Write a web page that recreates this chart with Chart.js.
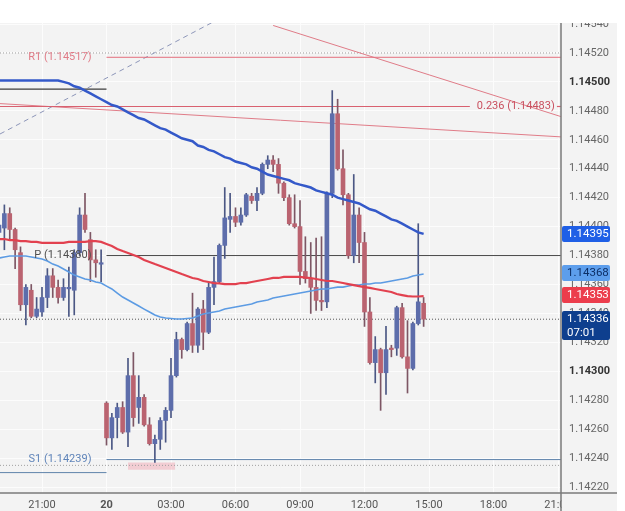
<!DOCTYPE html>
<html><head><meta charset="utf-8">
<script src="https://cdn.jsdelivr.net/npm/chart.js@4.4.1/dist/chart.umd.min.js"></script>
<style>html,body{margin:0;padding:0;background:#fff;}canvas{display:block}</style>
</head><body>
<canvas id="c" width="625" height="511"></canvas>
<script>
// ---- DATA ----
const times = ["19:00","19:15","19:30","19:45","20:00","20:15","20:30","20:45","21:00","21:15","21:30","21:45","22:00","22:15","22:30","22:45","23:00","23:15","23:30","23:45",
"00:00","00:15","00:30","00:45","01:00","01:15","01:30","01:45","02:00","02:15","02:30","02:45","03:00","03:15","03:30","03:45","04:00","04:15","04:30","04:45",
"05:00","05:15","05:30","05:45","06:00","06:15","06:30","06:45","07:00","07:15","07:30","07:45","08:00","08:15","08:30","08:45","09:00","09:15","09:30","09:45",
"10:00","10:15","10:30","10:45","11:00","11:15","11:30","11:45","12:00","12:15","12:30","12:45","13:00","13:15","13:30","13:45","14:00","14:15","14:30","14:45"];
const opens = [1.14396,1.14399,1.14409,1.14398,1.14382,1.14346,1.14356,1.14338,1.14341,1.14351,1.14366,1.14358,1.14351,1.14357,1.14356,1.14382,1.14408,1.14391,1.14377,1.14374,
1.14278,1.14254,1.14268,1.14275,1.14258,1.14297,1.14275,1.14282,1.14263,1.14250,1.14253,1.14266,1.14273,1.14297,1.14322,1.14315,1.14333,1.14318,1.14343,1.14327,
1.14358,1.14362,1.14387,1.14405,1.14407,1.14403,1.14408,1.14421,1.14418,1.14423,1.14443,1.14446,1.14443,1.14430,1.14420,1.14402,1.14400,1.14369,1.14364,1.14358,
1.14349,1.14348,1.14423,1.14478,1.14440,1.14422,1.14380,1.14408,1.14389,1.14341,1.14306,1.14315,1.14299,1.14316,1.14316,1.14344,1.14310,1.14302,1.14333,1.14347];
const highs = [1.14405,1.14415,1.14413,1.14399,1.14386,1.14360,1.14360,1.14351,1.14358,1.14371,1.14371,1.14363,1.14364,1.14372,1.14384,1.14413,1.14423,1.14396,1.14384,1.14384,
1.14279,1.14271,1.14278,1.14279,1.14309,1.14313,1.14297,1.14284,1.14268,1.14256,1.14268,1.14275,1.14309,1.14327,1.14323,1.14334,1.14354,1.14344,1.14349,1.14361,
1.14379,1.14388,1.14427,1.14423,1.14413,1.14413,1.14423,1.14423,1.14427,1.14444,1.14449,1.14449,1.14447,1.14431,1.14422,1.14422,1.14418,1.14393,1.14389,1.14392,
1.14393,1.14424,1.14494,1.14488,1.14453,1.14423,1.14436,1.14413,1.14396,1.14351,1.14324,1.14316,1.14331,1.14318,1.14345,1.14347,1.14335,1.14334,1.14402,1.14351];
const lows = [1.14391,1.14384,1.14391,1.14371,1.14342,1.14332,1.14337,1.14337,1.14338,1.14344,1.14351,1.14347,1.14349,1.14338,1.14339,1.14380,1.14396,1.14362,1.14365,1.14362,
1.14249,1.14246,1.14254,1.14257,1.14248,1.14262,1.14264,1.14262,1.14249,1.14237,1.14246,1.14251,1.14268,1.14296,1.14309,1.14314,1.14313,1.14313,1.14315,1.14326,
1.14346,1.14361,1.14378,1.14396,1.14400,1.14401,1.14407,1.14416,1.14411,1.14422,1.14440,1.14438,1.14423,1.14418,1.14401,1.14399,1.14360,1.14361,1.14340,1.14342,
1.14342,1.14344,1.14420,1.14439,1.14415,1.14378,1.14375,1.14375,1.14331,1.14305,1.14292,1.14273,1.14284,1.14310,1.14311,1.14309,1.14285,1.14301,1.14332,1.14331];
const closes = [1.14401,1.14409,1.14398,1.14384,1.14346,1.14358,1.14338,1.14343,1.14351,1.14366,1.14358,1.14351,1.14358,1.14358,1.14382,1.14408,1.14398,1.14377,1.14375,1.14375,
1.14254,1.14268,1.14275,1.14258,1.14297,1.14268,1.14282,1.14263,1.14250,1.14253,1.14266,1.14273,1.14297,1.14322,1.14315,1.14333,1.14318,1.14343,1.14327,1.14358,
1.14362,1.14387,1.14406,1.14407,1.14403,1.14408,1.14422,1.14418,1.14423,1.14443,1.14446,1.14443,1.14430,1.14420,1.14402,1.14400,1.14369,1.14364,1.14358,1.14349,
1.14348,1.14423,1.14478,1.14440,1.14422,1.14380,1.14408,1.14389,1.14341,1.14306,1.14315,1.14299,1.14315,1.14315,1.14344,1.14310,1.14302,1.14333,1.14348,1.14336];
// moving averages (dark blue, red, light blue)
const maSlow = [1.14501,1.14501,1.14501,1.14501,1.14501,1.14501,1.14501,1.14501,1.14501,1.14501,1.14501,1.14501,1.14500,1.14499,1.14497,1.14496,1.14494,1.14492,1.14490,1.14488,
1.14486,1.14484,1.14483,1.14481,1.14479,1.14477,1.14475,1.14474,1.14472,1.14470,1.14468,1.14467,1.14465,1.14463,1.14461,1.14460,1.14459,1.14456,1.14455,1.14453,
1.14452,1.14450,1.14448,1.14447,1.14445,1.14444,1.14443,1.14441,1.14440,1.14438,1.14436,1.14435,1.14434,1.14433,1.14432,1.14430,1.14429,1.14428,1.14427,1.14425,
1.14424,1.14423,1.14422,1.14420,1.14419,1.14418,1.14417,1.14416,1.14414,1.14412,1.14411,1.14409,1.14407,1.14405,1.14404,1.14402,1.14400,1.14398,1.14396,1.14395];
const maMid = [1.143914,1.143914,1.143907,1.143907,1.143900,1.143900,1.143894,1.143894,1.143887,1.143887,1.143887,1.143887,1.143887,1.143894,1.143894,1.143894,1.143894,1.143900,1.143900,1.143894,
1.143880,1.143866,1.143845,1.143831,1.143818,1.143804,1.143790,1.143769,1.143755,1.143741,1.143728,1.143714,1.143700,1.143686,1.143672,1.143659,1.143645,1.143638,1.143624,1.143617,
1.143610,1.143607,1.143603,1.143603,1.143603,1.143610,1.143610,1.143617,1.143624,1.143631,1.143638,1.143645,1.143645,1.143652,1.143652,1.143652,1.143652,1.143648,1.143645,1.143638,
1.143631,1.143624,1.143624,1.143617,1.143610,1.143603,1.143596,1.143589,1.143582,1.143576,1.143569,1.143562,1.143555,1.143548,1.143534,1.143527,1.143520,1.143517,1.143517,1.143520];
const maFast = [1.143783,1.143790,1.143797,1.143797,1.143797,1.143797,1.143790,1.143783,1.143776,1.143762,1.143741,1.143728,1.143707,1.143686,1.143665,1.143652,1.143638,1.143631,1.143617,1.143610,
1.143589,1.143569,1.143541,1.143513,1.143493,1.143472,1.143451,1.143430,1.143410,1.143389,1.143375,1.143368,1.143365,1.143361,1.143361,1.143365,1.143368,1.143382,1.143396,1.143403,
1.143410,1.143417,1.143430,1.143437,1.143444,1.143451,1.143458,1.143465,1.143479,1.143486,1.143493,1.143506,1.143513,1.143520,1.143527,1.143534,1.143541,1.143548,1.143555,1.143562,
1.143569,1.143569,1.143576,1.143582,1.143582,1.143589,1.143596,1.143596,1.143603,1.143603,1.143610,1.143610,1.143617,1.143624,1.143631,1.143638,1.143645,1.143659,1.143665,1.143672];

// axes (hours; 24 = midnight of the 20th)
const xMin = 19.0465, xMax = 45.1395;
const yMin = 1.142159, yMax = 1.145407;
const xTickValues = [21,24,27,30,33,36,39,42,45];
const xTickLabels = ["21:00","20","03:00","06:00","09:00","12:00","15:00","18:00","21:00"];
const yTickValues = [1.1422,1.1424,1.1426,1.1428,1.1430,1.1432,1.1434,1.1436,1.1438,1.1440,1.1442,1.1444,1.1446,1.1448,1.1450,1.1452,1.1454];
const yBoldTicks = [1.1450,1.1430];

// levels
const prevDayStart = 19.0465, dayStart = 24;
const pivotNames = ["R1","P","S1"];
const pivotValues = [1.14517,1.14380,1.14239];
const prevPivotValues = [1.14495,1.14230]; // previous-day P and S1 segments
const fibLevel = 0.236, fibValue = 1.14483, fibEnd = 40.9, fibTail = 44.95;
const dottedLevels = [1.14520,1.14336,1.14235];
const trendRedLong = [{x:19.0465,y:1.14485},{x:45.1395,y:1.14462}];
const trendRedSteep = [{x:31.75,y:1.14539},{x:45.1395,y:1.14476}];
const trendDashed = [{x:19.0465,y:1.14464},{x:28.91,y:1.14541}];
const zoneTimes = [25.0,27.2], zoneTop = 1.14237, zoneBottom = 1.14232;
// price tags on the right axis
const tagValues = [1.14395,1.14368,1.14353,1.14336];
const tagColors = ["#1f5fe6","#5d9eec","#ec3d4c","#0e3f8e"];
const tagText = ["#ffffff","#0d2f66","#ffffff","#ffffff"];
const tagSub = ["","","","07:01"];

// ---- build ----
const tHours = []; let dayAdd = 0, prevT = -1;
times.forEach(s => { const [h,m] = s.split(":").map(Number); let v = h + m/60; if (v < prevT) dayAdd += 24; prevT = v; tHours.push(v + dayAdd); });
const isBull = opens.map((o,i) => closes[i] >= o);
const BULL = "#5d6dab", BEAR = "#ba6370", BULLW = "#4b5784", BEARW = "#7d5664";
const xy = (arr) => tHours.map((t,i) => ({x:t, y:arr[i]}));
const seg = (x0,x1,v) => [{x:x0,y:v},{x:x1,y:v}];
const lineDs = (data, color, width, order, extra) => Object.assign({type:"line", data, borderColor:color, borderWidth:width, pointRadius:0, fill:false, order, tension:0}, extra||{});

const datasets = [
  lineDs(xy(maSlow), "#3459c9", 2.5, 1),
  lineDs(xy(maMid), "#e2414f", 2.2, 2),
  lineDs(xy(maFast), "#5c9be3", 1.6, 3),
  {type:"bar", data: tHours.map((t,i)=>({x:t, y:[opens[i], closes[i]]})), backgroundColor: isBull.map(b=>b?BULL:BEAR), borderWidth:0, barThickness:4, minBarLength:1.5, grouped:false, order:5},
  {type:"bar", data: tHours.map((t,i)=>({x:t, y:[lows[i], highs[i]]})), backgroundColor: isBull.map(b=>b?BULLW:BEARW), borderWidth:0, barThickness:1, grouped:false, order:6},
  lineDs(seg(dayStart, xMax, pivotValues[0]), "#e36e7c", 1, 8),
  lineDs(seg(dayStart, xMax, pivotValues[1]), "#4a4a4a", 1, 8),
  lineDs(seg(dayStart, xMax, pivotValues[2]), "#5f84ab", 1, 8),
  lineDs(seg(prevDayStart, dayStart, prevPivotValues[0]), "#3c3c3c", 1.2, 8),
  lineDs(seg(prevDayStart, dayStart, prevPivotValues[1]), "#5f84ab", 1, 8),
  lineDs(seg(xMin, fibEnd, fibValue), "#d8606f", 1.2, 8),
  lineDs(seg(fibTail, xMax, fibValue), "#d8606f", 1.2, 8),
  lineDs(seg(xMin, xMax, dottedLevels[0]), "#9a9a9a", 1, 9, {borderDash:[1,2]}),
  lineDs(seg(xMin, xMax, dottedLevels[1]), "#555555", 1, 9, {borderDash:[1,2]}),
  lineDs(seg(xMin, xMax, dottedLevels[2]), "#a0a0a0", 1, 9, {borderDash:[1,2]}),
  lineDs(trendRedLong, "#e07c88", 1, 8),
  lineDs(trendRedSteep, "#e07c88", 1, 8),
  lineDs(trendDashed, "#8d96b9", 1, 8, {borderDash:[5,4]}),
  lineDs(seg(zoneTimes[0], zoneTimes[1], zoneTop), "rgba(0,0,0,0)", 0, 10),
  lineDs(seg(zoneTimes[0], zoneTimes[1], zoneBottom), "rgba(0,0,0,0)", 0, 10, {fill:"-1", backgroundColor:"rgba(242,160,174,0.45)"})
];

const isBold = c => !!(c && c.tick) && yBoldTicks.some(b => Math.abs(b - c.tick.value) < 1e-7);
const BG = "#f3f3f3";
const bgPlugin = {
  id: "bg",
  beforeDraw(chart) {
    const c = chart.ctx; c.save();
    c.fillStyle = "#ffffff"; c.fillRect(0,0,chart.width,chart.height);
    c.fillStyle = BG; c.fillRect(0, 23, 617, chart.height-23);
    c.restore();
  }
};
const overlay = {
  id: "overlay",
  afterDatasetsDraw(chart) {
    const c = chart.ctx, xs = chart.scales.x, ys = chart.scales.y;
    c.save();
    c.font = "11px Roboto"; c.textBaseline = "middle";
    const pColors = ["#e07c88","#4f4f4f","#5f84b9"];
    c.textAlign = "right";
    const lx = xs.getPixelForValue(dayStart) - 15;
    pivotNames.forEach((n,k) => { c.fillStyle = pColors[k]; c.fillText(n + " (" + pivotValues[k].toFixed(5) + ")", lx, ys.getPixelForValue(pivotValues[k])); });
    c.textAlign = "left"; c.fillStyle = "#c9505f";
    c.fillText(fibLevel.toFixed(3) + " (" + fibValue.toFixed(5) + ")", xs.getPixelForValue(fibEnd) + 7, ys.getPixelForValue(fibValue));
    c.restore();
  },
  afterDraw(chart) {
    const c = chart.ctx, ys = chart.scales.y, a = chart.chartArea;
    c.save();
    c.fillStyle = BG; c.fillRect(a.right + 0.5, a.bottom + 0.5, 617 - a.right, chart.height - a.bottom);
    c.fillStyle = "#ffffff"; c.fillRect(0, 0, chart.width, 23); c.fillRect(617, 0, chart.width - 617, chart.height);
    c.strokeStyle = "#7a7a7a"; c.lineWidth = 1.5;
    c.beginPath(); c.moveTo(0, a.bottom); c.lineTo(617, a.bottom); c.stroke();
    c.beginPath(); c.moveTo(a.right, 23); c.lineTo(a.right, chart.height); c.stroke();
    c.font = "11.5px Roboto"; c.textBaseline = "middle"; c.textAlign = "left";
    tagValues.forEach((v,k) => {
      const y = Math.round(ys.getPixelForValue(v));
      const h = tagSub[k] ? 29 : 16;
      c.fillStyle = tagColors[k];
      c.beginPath(); c.roundRect(a.right + 1, y - 8, 48, h, 2); c.fill();
      c.fillStyle = tagText[k];
      c.fillText(v.toFixed(5), a.right + 6, y + 0.5);
      if (tagSub[k]) c.fillText(tagSub[k], a.right + 6, y + 14);
    });
    c.restore();
  }
};

new Chart(document.getElementById("c"), {
  type: "bar",
  data: { datasets },
  options: {
    responsive: false, animation: false, devicePixelRatio: 1,
    layout: { padding: { top: 23, left: 0, right: 0, bottom: 0 } },
    plugins: { legend: { display: false }, tooltip: { enabled: false } },
    scales: {
      x: {
        type: "linear", min: xMin, max: xMax, offset: false,
        grid: { color: "#fcfcfc", lineWidth: 1, drawTicks: false, offset: false },
        border: { display: false },
        afterBuildTicks: s => { s.ticks = xTickValues.map(v => ({ value: v })); },
        afterFit: s => { s.height = 18; },
        ticks: {
          autoSkip: false, maxRotation: 0, padding: 6, color: "#555",
          font: c => ({ family: "Roboto", size: 11, weight: (c && c.tick && c.tick.value === 24) ? "bold" : "normal" }),
          callback: v => { const k = xTickValues.indexOf(v); return k >= 0 ? xTickLabels[k] : ""; }
        }
      },
      y: {
        type: "linear", position: "right", min: yMin, max: yMax,
        grid: { color: "#fcfcfc", lineWidth: 1, drawTicks: false },
        border: { display: false },
        afterBuildTicks: s => { s.ticks = yTickValues.map(v => ({ value: v })); },
        afterFit: s => { s.width = 64; },
        ticks: {
          padding: 8, autoSkip: false,
          color: c => isBold(c) ? "#333" : "#666",
          font: c => ({ family: "Roboto", size: 11, weight: isBold(c) ? "bold" : "normal" }),
          callback: v => Number(v).toFixed(5)
        }
      }
    }
  },
  plugins: [bgPlugin, overlay]
});
</script>
</body></html>
